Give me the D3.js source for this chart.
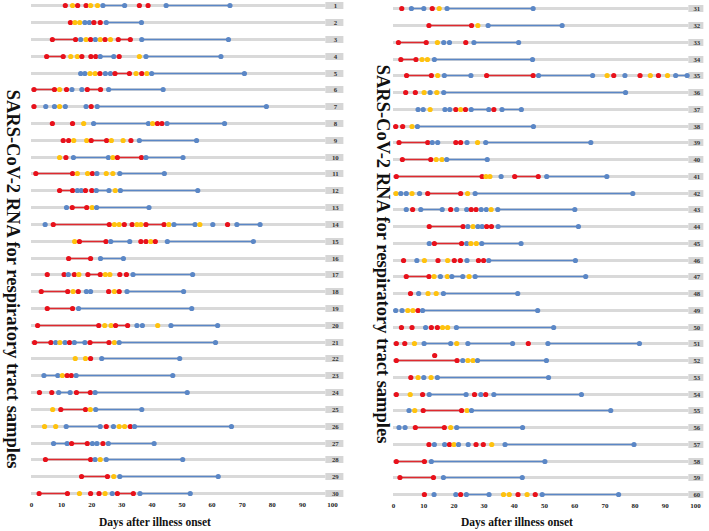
<!DOCTYPE html>
<html><head><meta charset="utf-8">
<script src="https://cdn.jsdelivr.net/npm/d3@7"></script>
<style>body{margin:0;background:#fff}svg{display:block}</style>
</head><body>
<svg id="c" width="709" height="531"></svg>
<script>
// ---- DATA ----
const rowIds = d3.range(1, 61);
const tickValues = [0,10,20,30,40,50,60,70,80,90,100];
const xTitle = "Days after illness onset";
const yTitle = "SARS-CoV-2 RNA for respiratory tract samples";
// colour codes: r = red, y = yellow, b = blue
const dotDays = [
 [11.4,13.8,15.5,18.3,19.8,22.1,23.9,31.1,36,38.9,44.9,66.1],
 [13.1,14.6,16.2,17.9,19.4,20.9,23,25,36.7],
 [7.1,14.8,16.5,18.3,19.8,21.4,23,24.6,26.4,29,33,36.8,65.6],
 [5.2,10.7,13.2,15.4,16.9,19.9,21.5,23,27.5,29.3,36,38.2,63.1],
 [16.5,17.9,19.6,21.3,22.9,24.7,26.4,27.9,32.7,34.9,36.8,38.5,40.1,70.9],
 [1,7.8,9.5,11.8,13.6,16.9,18.7,23.1,25.8,43.9],
 [1,4.9,7.8,9.5,11.4,18.3,20,22,78.2],
 [7.1,13.8,17.5,20.8,39,40.4,42,43.5,45.2,64.3],
 [10.7,12.5,14.2,18.5,20,25.1,26.7,30.6,33.2,36,55],
 [9.5,11.6,14.1,25.7,27.2,28.7,36.7,38.2,50.5],
 [1.6,13.8,15.4,18.8,20.4,21.9,25,27.2,29.5,44.3],
 [9.5,13.8,15.4,16.7,18.1,20.2,21.7,25.9,28,29.7,55.4],
 [11.8,13.7,18.5,20.3,21.8,39.2],
 [4.7,7.4,26,27.7,29.3,31,33.6,35.2,36.5,38.2,44.2,45.8,47.5,54.5,56.1,60.4,65.3,68.4,76.1],
 [14.5,16.1,24.9,26.5,32.8,36.5,38.2,39.8,41.3,45.3,73.9],
 [12.5,19.8,23.1,30.7],
 [5.4,11,12.4,14.4,15.9,18.9,23,24.7,26.2,29.5,31.7,33.9,53.7],
 [3.4,12.2,14,15.7,18.4,19.8,25.8,27.7,29.3,31.9,50.7],
 [5.4,13.8,15.8,53.4],
 [2.2,22.5,24.5,26.6,28.1,32.1,35.2,37,42.1,46.5,62],
 [1.2,6.6,8.2,9.6,11.3,12.8,14.4,17.9,19.6,25.9,27.7,29.3,61.3],
 [14.7,18.1,19.8,23.5,49.4],
 [4.3,8.9,10.4,12,13.4,15,47.1],
 [2.8,6.9,9.2,13,15.1,19.7,21.3,51.9],
 [7.2,9.9,18.1,19.7,21.5,36.8],
 [4.5,8.2,11.7,23,25,27.4,29.3,31.1,33,34.4,66.6],
 [7.5,12,13.5,18.7,20.4,21.9,23.9,25.7,40.9],
 [4.8,19.8,21.3,23,25,50.4],
 [16.8,25.4,27.5,29.5,62.2],
 [2.7,12.1,16.1,19.8,22.6,24.6,27,28.7,34,36.2,52.9],
 [2.9,6.1,10.2,13,15.3,17.9,46.4],
 [11.9,26,28.1,31.5,56],
 [1.8,11,14.7,16.8,18.7,24.1,26.8,41.6],
 [2.6,7.6,9.6,11.4,13.7,46.2],
 [4.5,12.7,14.8,17,25.8,31,46.4,48.2,66.1,70.9,73.1,76.8,81.8,85.2,87.9,90.9,93.6,97.4],
 [4.2,7.4,10.3,12.3,14.5,16.8,77],
 [8.3,10,12.3,17.2,18.8,20.8,22.4,24,25.9,31.7,33.4,36.1,42.5],
 [0.9,3.2,6.3,8.1,46.5],
 [2,11.5,13,14.8,20.8,22.4,24.5,28,30.7,65.5],
 [3.1,12.5,14.3,16.2,17.8,31.2],
 [1.1,29.5,30.8,32.1,35.8,40.3,48.1,50.9,70.8],
 [1,2.6,4.4,6.3,8.8,11.5,22.4,24.7,27.2,79.4],
 [4.4,6.5,9.2,16.3,19.1,21.1,24.4,25.9,27.5,29.2,30.9,32.5,34.7,60.2],
 [12,23.2,24.8,26.5,28.1,29.5,31,32.6,34.8,61.4],
 [12,13.7,22.7,24.4,25.8,27.6,29.4,42.4],
 [3.5,7.9,10.4,14.9,18.1,20.3,22.3,24.5,28.3,30,31.7,60.4],
 [4.4,11.9,13.6,15.7,18,19.5,23.1,25.2,27.2,63.8],
 [5.8,8.5,11.6,14.3,16.7,41.3],
 [0.9,3,4.9,6.6,8.3,9.8,47.9],
 [2.8,6.3,10.8,12.7,14.7,16.4,18.1,21,53.2],
 [1.1,3.9,7.1,10.3,19.1,21.1,24.8,39.6,44.8,51.3,81.6],
 [1.1,21.2,23.1,24.8,26.5,28,50.8],
 [5.9,8.3,10.2,12.6,14.7,51.5],
 [1.1,5.7,9.8,12,24.2,27,29.1,30.7,33.4,62.4],
 [5.3,7.2,10,22.7,24.5,26,72.1],
 [2,4,7.4,17,19.1,21.1,42.9],
 [11.9,13.7,17.1,18.7,20.2,21.7,24.9,27.5,29.9,32.7,37.1,79.8],
 [1.1,10.4,12.7,50.3],
 [2.3,13.4,16.7,42.8],
 [10.4,13.6,20.8,22.4,24.3,31.8,36.6,38.5,41.4,44.4,47.1,49.4,74.7]
];
const dotColors = [
 "ryrryybbrrbb","ryybbrrbb","rrbyrbyryrrbb","rryyrrrbbrybb","bbyyrbbrryryb",
 "rryrbbrrbb","rbbybbrbb","rrybbyrrbb","rryyrryyrbb","yrbbyrrbb",
 "rryyrbyybb","rrbbrrbbybb","brrybb","brryyrryyrrybbybrbb","yrrbbrryrbb",
 "rrbb","rrbryrryyrrbb","rryrbbryrbb","rrbb","rryyrrbbybb",
 "rrbybrbbrrybb","yyrbb","bbyrrbb","rrbbrrbb","yrrybb",
 "yybbrbyyrbb","bbrrbbrbb","rrbybb","rrybb","rryrrybrrbb",
 "rbbrybb","rrybb","rrybbrbb","rryybb","rrybbrrbbyrbryrybb",
 "rrybybb","bbybbryrbbrbb","rrybb","rrbbrrbybb","rryybb",
 "rryybrrbb","ybbybrrybb","brbbrbbrrbbybb","rrbybbrrbb","brrbyybb",
 "rbyryrrbrrbb","rrybybbybb","rbyybb","bbyyrbb","rrbrryybb",
 "rrybbybbrbb","rrbyybb","rybybb","ryrbbrbrbb","byrrybb",
 "bbrrybb","rbbrybbrrybb","rrbb","rrbb","rbbrbbyyryrbb"
];
// connecting lines: [row, fromDay, toDay, colour]
const segments = [
 [1,23.9,31.1,"b"],[1,44.9,66.1,"b"],
 [2,25,36.7,"b"],
 [3,7.1,14.8,"r"],[3,29,33,"r"],[3,36.8,65.6,"b"],
 [4,5.2,10.7,"r"],[4,23,27.5,"b"],[4,38.2,63.1,"b"],
 [5,27.9,32.7,"r"],[5,40.1,70.9,"b"],
 [6,1,7.8,"r"],[6,18.7,23.1,"r"],[6,25.8,43.9,"b"],
 [7,22,78.2,"b"],
 [8,20.8,39,"b"],[8,45.2,64.3,"b"],
 [9,20,25.1,"r"],[9,36,55,"b"],
 [10,14.1,25.7,"b"],[10,28.7,36.7,"r"],[10,38.2,50.5,"b"],
 [11,1.6,13.8,"r"],[11,29.5,44.3,"b"],
 [12,9.5,13.8,"r"],[12,21.7,25.9,"b"],[12,29.7,55.4,"b"],
 [13,13.7,18.5,"r"],[13,21.8,39.2,"b"],
 [14,7.4,26,"r"],[14,38.2,44.2,"r"],[14,47.5,54.5,"b"],[14,68.4,76.1,"b"],
 [15,16.1,24.9,"r"],[15,26.5,32.8,"b"],[15,45.3,73.9,"b"],
 [16,12.5,19.8,"r"],[16,23.1,30.7,"b"],
 [17,18.9,23,"r"],[17,33.9,53.7,"b"],
 [18,3.4,12.2,"r"],[18,31.9,50.7,"b"],
 [19,5.4,13.8,"r"],[19,15.8,53.4,"b"],
 [20,2.2,22.5,"r"],[20,28.1,32.1,"r"],[20,46.5,62,"b"],
 [21,1.2,6.6,"r"],[21,14.4,17.9,"b"],[21,19.6,25.9,"r"],[21,29.3,61.3,"b"],
 [22,23.5,49.4,"b"],
 [23,4.3,8.9,"b"],[23,15,47.1,"b"],
 [24,9.2,13,"b"],[24,15.1,19.7,"r"],[24,21.3,51.9,"b"],
 [25,9.9,18.1,"r"],[25,21.5,36.8,"b"],
 [26,11.7,23,"b"],[26,34.4,66.6,"b"],
 [27,7.5,12,"b"],[27,13.5,18.7,"r"],[27,25.7,40.9,"b"],
 [28,4.8,19.8,"r"],[28,25,50.4,"b"],
 [29,16.8,25.4,"r"],[29,29.5,62.2,"b"],
 [30,2.7,12.1,"r"],[30,28.7,34,"r"],[30,36.2,52.9,"b"],
 [31,6.1,10.2,"b"],[31,17.9,46.4,"b"],
 [32,11.9,26,"r"],[32,31.5,56,"b"],
 [33,1.8,11,"r"],[33,26.8,41.6,"b"],
 [34,2.6,7.6,"r"],[34,13.7,46.2,"b"],
 [35,4.5,12.7,"r"],[35,17,25.8,"b"],[35,31,46.4,"r"],[35,48.2,66.1,"b"],[35,93.6,97.4,"b"],
 [36,16.8,77,"b"],
 [37,25.9,31.7,"b"],[37,36.1,42.5,"b"],
 [38,8.1,46.5,"b"],
 [39,2,11.5,"r"],[39,30.7,65.5,"b"],
 [40,3.1,12.5,"r"],[40,17.8,31.2,"b"],
 [41,1.1,29.5,"r"],[41,40.3,48.1,"r"],[41,50.9,70.8,"b"],
 [42,11.5,22.4,"r"],[42,27.2,79.4,"b"],
 [43,9.2,16.3,"b"],[43,34.7,60.2,"b"],
 [44,12,23.2,"r"],[44,34.8,61.4,"b"],
 [45,13.7,22.7,"r"],[45,29.4,42.4,"b"],
 [46,31.7,60.4,"b"],
 [47,4.4,11.9,"r"],[47,19.5,23.1,"b"],[47,27.2,63.8,"b"],
 [48,16.7,41.3,"b"],
 [49,9.8,47.9,"b"],
 [50,21,53.2,"b"],
 [51,10.3,19.1,"b"],[51,24.8,39.6,"b"],[51,51.3,81.6,"b"],
 [52,1.1,21.2,"r"],[52,28,50.8,"b"],
 [53,14.7,51.5,"b"],
 [54,12,24.2,"b"],[54,33.4,62.4,"b"],
 [55,10,22.7,"r"],[55,26,72.1,"b"],
 [56,7.4,17,"r"],[56,21.1,42.9,"b"],
 [57,37.1,79.8,"b"],
 [58,1.1,10.4,"r"],[58,12.7,50.3,"b"],
 [59,2.3,13.4,"r"],[59,16.7,42.8,"b"],
 [60,24.3,31.8,"b"],[60,49.4,74.7,"b"]
];
// a dot drawn slightly above its row in the original
const raisedDots = [[52,13.8,"r"]];

// ---- STYLE / LAYOUT ----
const dotFill = {r:"#e8111b", y:"#ffc20e", b:"#5b87c6"};
const lineCol = {r:"#e0292f", y:"#ffc20e", b:"#5b87c6"};
const font = "'Liberation Serif','Times New Roman',serif";
const panels = [
  {rows: rowIds.slice(0,30), x0:31, x1:332, yTop:5.3, yBot:493, boxW:18, tickY:502, titleX:155, yTitleX:11, yTitleY:279},
  {rows: rowIds.slice(30), x0:393, x1:695, yTop:8.3, yBot:494, boxW:15, tickY:503, titleX:517, yTitleX:381, yTitleY:254}
];
const svg = d3.select("#c");

panels.forEach(p => {
  const x = d3.scaleLinear().domain([0,100]).range([p.x0, p.x1]);
  const yp = d3.scalePoint().domain(p.rows).range([p.yTop, p.yBot]);
  const y = d => Math.round(yp(d)) + 0.5;
  const g = svg.append("g");
  const barEnd = x(97.8);
  // background bars
  g.selectAll("rect.bar").data(p.rows).join("rect")
    .attr("x", x(0)).attr("y", d => y(d)-1.5).attr("width", barEnd - x(0)).attr("height", 3)
    .attr("fill", "#d9d9d9");
  // label boxes
  g.selectAll("rect.box").data(p.rows).join("rect")
    .attr("x", barEnd).attr("y", d => y(d)-3.5).attr("width", p.boxW).attr("height", 7)
    .attr("fill", "#d6d6d6");
  g.selectAll("text.lab").data(p.rows).join("text")
    .attr("x", barEnd + p.boxW/2 + 1).attr("y", d => y(d)+2.4)
    .attr("text-anchor","middle").attr("font-family", font).attr("font-weight","bold")
    .attr("font-size", 6.8).attr("fill","#333").text(d => d);
  // segments
  const segs = segments.filter(s => p.rows.includes(s[0]));
  g.selectAll("line.seg").data(segs).join("line")
    .attr("x1", d => x(d[1])).attr("x2", d => x(d[2]))
    .attr("y1", d => y(d[0])).attr("y2", d => y(d[0]))
    .attr("stroke", d => lineCol[d[3]]).attr("stroke-width", 1.5);
  // dots
  const dots = [];
  p.rows.forEach(r => {
    const days = dotDays[r-1], cols = dotColors[r-1];
    days.forEach((d,i) => dots.push({row:r, day:d, c:cols[i] || "b", dy:0}));
  });
  raisedDots.filter(d => p.rows.includes(d[0])).forEach(d => dots.push({row:d[0], day:d[1], c:d[2], dy:-5}));
  g.selectAll("circle").data(dots).join("circle")
    .attr("cx", d => x(d.day)).attr("cy", d => y(d.row) + d.dy).attr("r", 2.6)
    .attr("fill", d => dotFill[d.c]);
  // x axis (labels only)
  const ax = svg.append("g").attr("transform", `translate(0,${p.tickY})`)
    .call(d3.axisBottom(x).tickValues(tickValues).tickSize(0).tickPadding(0));
  ax.select(".domain").remove();
  ax.selectAll("text").attr("font-family", font).attr("font-weight","bold").attr("font-size", 7).attr("fill","#222").attr("dy","0.71em");
  svg.append("text").attr("x", p.titleX).attr("y", 526).attr("text-anchor","middle")
    .attr("font-family", font).attr("font-weight","bold").attr("font-size", 11.5).attr("fill","#111").text(xTitle);
  svg.append("text").attr("transform", `translate(${p.yTitleX},${p.yTitleY}) rotate(90)`)
    .attr("text-anchor","middle").attr("dominant-baseline","middle")
    .attr("font-family", font).attr("font-weight","bold").attr("font-size", 18.5).attr("fill","#111").text(yTitle);
});
</script>
</body></html>
